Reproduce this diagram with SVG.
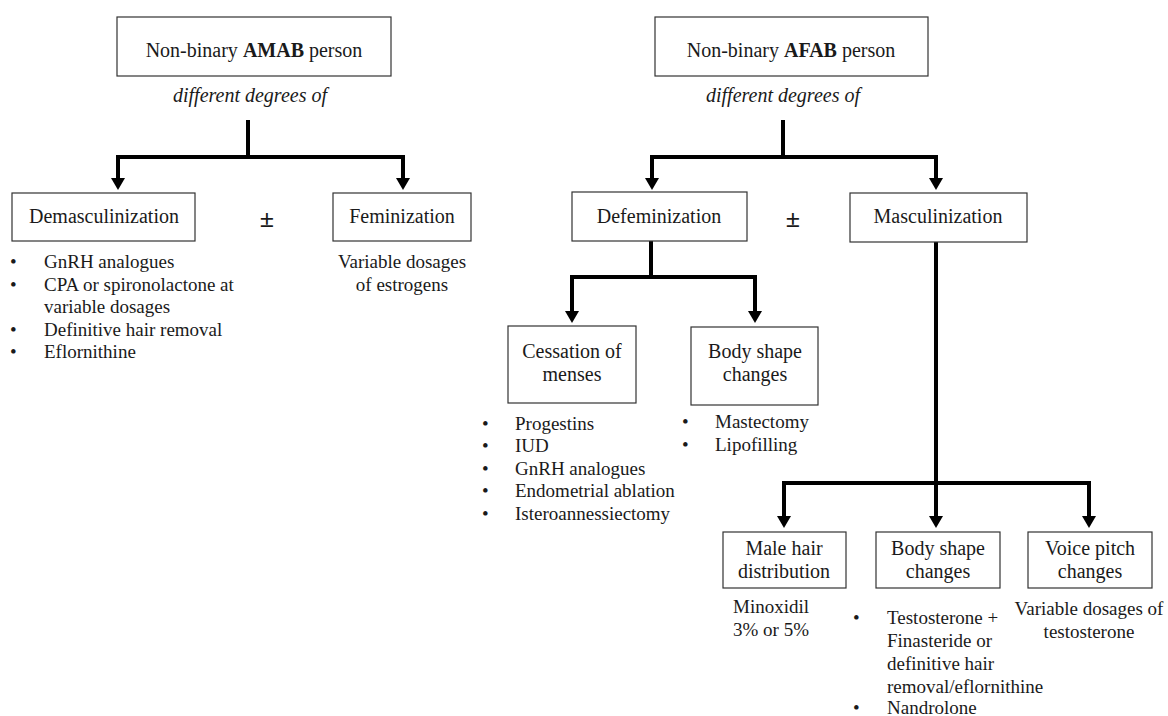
<svg xmlns="http://www.w3.org/2000/svg" width="1168" height="716" viewBox="0 0 1168 716" font-family="'Liberation Serif', 'DejaVu Serif', serif">
<style>
.box{fill:#fff;stroke:#333;stroke-width:1.2}
text{font-family:'Liberation Serif','DejaVu Serif',serif;fill:#1a1a1a}
.lbl{font-size:20px;text-anchor:middle}
.it{font-size:20px;font-style:italic;text-anchor:middle}
.sm{font-size:19px}
.smc{font-size:19px;text-anchor:middle}
.pm{font-size:26px;font-weight:bold;text-anchor:middle}
.con{fill:none;stroke:#000;stroke-width:4;stroke-linejoin:miter}
</style>
<defs>
<marker id="ah" markerUnits="userSpaceOnUse" viewBox="0 0 12 14" markerWidth="12" markerHeight="14" refX="0" refY="7" orient="auto-start-reverse">
<path d="M0,0 L12,7 L0,14 z" fill="#000"/>
</marker>
</defs>
<rect width="1168" height="716" fill="#fff"/>
<g id="connectors">
<path class="con" d="M248,120 V157"/>
<path class="con" d="M118,178 V157 H403 V178" marker-start="url(#ah)" marker-end="url(#ah)"/>
<path class="con" d="M783,120 V157"/>
<path class="con" d="M652,178 V157 H936 V178" marker-start="url(#ah)" marker-end="url(#ah)"/>
<path class="con" d="M651,241 V277"/>
<path class="con" d="M572,311 V277 H755 V311" marker-start="url(#ah)" marker-end="url(#ah)"/>
<path class="con" d="M936,242 V516" marker-end="url(#ah)"/>
<path class="con" d="M784,516 V483 H1089 V516" marker-start="url(#ah)" marker-end="url(#ah)"/>
</g>
<g id="amab">
<rect class="box" x="117" y="17" width="274" height="59"/>
<text class="lbl" x="254" y="57">Non-binary <tspan font-weight="bold">AMAB</tspan> person</text>
</g>
<text id="amab-degrees" class="it" x="250" y="102">different degrees of</text>
<g id="demasc">
<rect class="box" x="12" y="193" width="183" height="48"/>
<text class="lbl" x="104" y="223">Demasculinization</text>
</g>
<text class="pm" x="267" y="227">±</text>
<g id="demasc-list" class="sm">
<text x="10" y="268">•</text><text x="44" y="268">GnRH  analogues</text>
<text x="10" y="291">•</text><text x="44" y="291">CPA  or spironolactone at</text>
<text x="44" y="313">variable  dosages</text>
<text x="10" y="336">•</text><text x="44" y="336">Definitive hair removal</text>
<text x="10" y="358">•</text><text x="44" y="358">Eflornithine</text>
</g>
<g id="femin">
<rect class="box" x="333" y="193" width="138" height="48"/>
<text class="lbl" x="402" y="223">Feminization</text>
</g>
<g id="femin-list">
<text class="smc" x="402" y="268">Variable dosages</text>
<text class="smc" x="402" y="291">of estrogens</text>
</g>
<g id="afab">
<rect class="box" x="655" y="17" width="273" height="59"/>
<text class="lbl" x="791" y="57">Non-binary <tspan font-weight="bold">AFAB</tspan> person</text>
</g>
<text id="afab-degrees" class="it" x="783" y="102">different degrees of</text>
<g id="defem">
<rect class="box" x="572" y="192" width="175" height="49"/>
<text class="lbl" x="659" y="223">Defeminization</text>
</g>
<text class="pm" x="793" y="227">±</text>
<g id="masc">
<rect class="box" x="850" y="193" width="177" height="49"/>
<text class="lbl" x="938" y="223">Masculinization</text>
</g>
<g id="cessation">
<rect class="box" x="508" y="326" width="128" height="77"/>
<text class="lbl" x="572" y="358">Cessation of</text>
<text class="lbl" x="572" y="381">menses</text>
</g>
<g id="cessation-list" class="sm">
<text x="482" y="430">•</text><text x="515" y="430">Progestins</text>
<text x="482" y="452">•</text><text x="515" y="452">IUD</text>
<text x="482" y="475">•</text><text x="515" y="475">GnRH analogues</text>
<text x="482" y="497">•</text><text x="515" y="497">Endometrial ablation</text>
<text x="482" y="520">•</text><text x="515" y="520">Isteroannessiectomy</text>
</g>
<g id="bodyshape1">
<rect class="box" x="691" y="327" width="127" height="78"/>
<text class="lbl" x="755" y="358">Body shape</text>
<text class="lbl" x="755" y="381">changes</text>
</g>
<g id="bodyshape1-list" class="sm">
<text x="682" y="428">•</text><text x="715" y="428">Mastectomy</text>
<text x="682" y="451">•</text><text x="715" y="451">Lipofilling</text>
</g>
<g id="malehair">
<rect class="box" x="723" y="532" width="123" height="56"/>
<text class="lbl" x="784" y="555">Male hair</text>
<text class="lbl" x="784" y="578">distribution</text>
</g>
<g id="malehair-list">
<text class="smc" x="771" y="613">Minoxidil</text>
<text class="smc" x="771" y="636">3% or 5%</text>
</g>
<g id="bodyshape2">
<rect class="box" x="876" y="532" width="124" height="56"/>
<text class="lbl" x="938" y="555">Body shape</text>
<text class="lbl" x="938" y="578">changes</text>
</g>
<g id="bodyshape2-list" class="sm">
<text x="853" y="624">•</text><text x="887" y="624">Testosterone +</text>
<text x="887" y="647">Finasteride or</text>
<text x="887" y="670">definitive hair</text>
<text x="887" y="693">removal/eflornithine</text>
<text x="853" y="714">•</text><text x="887" y="714">Nandrolone</text>
</g>
<g id="voice">
<rect class="box" x="1028" y="532" width="124" height="56"/>
<text class="lbl" x="1090" y="555">Voice pitch</text>
<text class="lbl" x="1090" y="578">changes</text>
</g>
<g id="voice-list">
<text class="smc" x="1089" y="615">Variable  dosages of</text>
<text class="smc" x="1089" y="638">testosterone</text>
</g>
</svg>
